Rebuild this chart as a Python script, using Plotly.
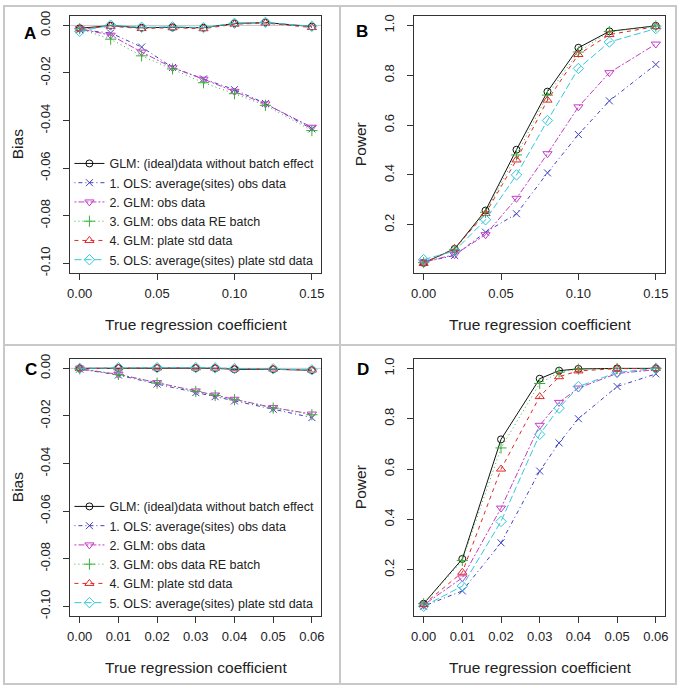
import plotly.graph_objects as go

# ---------------- data ----------------
series_names = [
    "GLM: (ideal)data without batch effect",
    "1. OLS: average(sites) obs data",
    "2. GLM: obs data",
    "3. GLM: obs data RE batch",
    "4. GLM: plate std data",
    "5. OLS: average(sites) plate std data",
]

x_top = [0.00, 0.02, 0.04, 0.06, 0.08, 0.10, 0.12, 0.15]
x_bottom = [0.00, 0.01, 0.02, 0.03, 0.035, 0.04, 0.05, 0.06]

# Panel A: bias
bias_A_ideal = [-0.0012, -0.0001, -0.0010, -0.0008, -0.0010, 0.0008, 0.0012, -0.0005]
bias_A_ols_obs = [-0.0018, -0.0032, -0.0091, -0.0177, -0.0225, -0.0270, -0.0328, -0.0435]
bias_A_glm_obs = [-0.0014, -0.0041, -0.0112, -0.0178, -0.0226, -0.0277, -0.0330, -0.0428]
bias_A_re = [-0.0014, -0.0058, -0.0128, -0.0183, -0.0241, -0.0287, -0.0336, -0.0442]
bias_A_plate = [-0.0015, -0.0004, -0.0013, -0.0010, -0.0014, 0.0005, 0.0010, -0.0009]
bias_A_ols_plate = [-0.0025, 0.0001, -0.0008, -0.0006, -0.0009, 0.0009, 0.0013, -0.0004]

# Panel B: power
power_B_ideal = [0.047, 0.103, 0.257, 0.501, 0.734, 0.910, 0.976, 0.998]
power_B_ols_obs = [0.050, 0.077, 0.170, 0.244, 0.408, 0.562, 0.697, 0.843]
power_B_glm_obs = [0.050, 0.080, 0.160, 0.306, 0.485, 0.673, 0.810, 0.925]
power_B_re = [0.048, 0.100, 0.250, 0.480, 0.720, 0.893, 0.975, 0.997]
power_B_plate = [0.045, 0.105, 0.245, 0.460, 0.700, 0.883, 0.963, 0.995]
power_B_ols_plate = [0.060, 0.095, 0.220, 0.400, 0.618, 0.827, 0.933, 0.987]

# Panel C: bias
bias_C_ideal = [0.0000, 0.0001, 0.0001, 0.0001, 0.0000, -0.0004, -0.0004, -0.0008]
bias_C_ols_obs = [-0.0003, -0.0028, -0.0066, -0.0102, -0.0119, -0.0137, -0.0172, -0.0207]
bias_C_glm_obs = [-0.0002, -0.0025, -0.0060, -0.0095, -0.0112, -0.0130, -0.0165, -0.0192]
bias_C_re = [-0.0002, -0.0026, -0.0062, -0.0097, -0.0114, -0.0132, -0.0167, -0.0195]
bias_C_plate = [0.0000, 0.0002, 0.0002, 0.0002, 0.0001, -0.0002, -0.0003, -0.0007]
bias_C_ols_plate = [0.0000, 0.0003, 0.0003, 0.0003, 0.0002, -0.0001, -0.0002, -0.0006]

# Panel D: power
power_D_ideal = [0.065, 0.243, 0.718, 0.959, 0.991, 0.998, 1.000, 1.000]
power_D_ols_obs = [0.055, 0.116, 0.307, 0.592, 0.704, 0.800, 0.928, 0.978]
power_D_glm_obs = [0.060, 0.168, 0.445, 0.774, 0.865, 0.922, 0.980, 0.995]
power_D_re = [0.065, 0.237, 0.684, 0.940, 0.985, 0.997, 1.000, 1.000]
power_D_plate = [0.062, 0.190, 0.600, 0.888, 0.967, 0.990, 0.999, 1.000]
power_D_ols_plate = [0.055, 0.135, 0.392, 0.738, 0.842, 0.928, 0.984, 1.000]

# tick labels
xtick_top = [0.00, 0.05, 0.10, 0.15]
xtick_top_text = ["0.00", "0.05", "0.10", "0.15"]
xtick_bottom = [0.00, 0.01, 0.02, 0.03, 0.04, 0.05, 0.06]
xtick_bottom_text = ["0.00", "0.01", "0.02", "0.03", "0.04", "0.05", "0.06"]
ytick_bias = [0.00, -0.02, -0.04, -0.06, -0.08, -0.10]
ytick_bias_text = ["0.00", "-0.02", "-0.04", "-0.06", "-0.08", "-0.10"]
ytick_power = [0.2, 0.4, 0.6, 0.8, 1.0]
ytick_power_text = ["0.2", "0.4", "0.6", "0.8", "1.0"]

# ---------------- styles ----------------
FONT = "Arial, Liberation Sans, sans-serif"
colors = ["#111111", "#4040c4", "#c43cc4", "#38b038", "#e02828", "#30c8da"]
dashes = ["solid", "1px,3px,4px,3px", "2px,2px,6px,2px", "1px,3px", "4px,4px", "7px,3px"]
symbols = ["circle-open", "x-thin-open", "triangle-down-open", "cross-thin-open",
           "triangle-up-open", "diamond-open"]
sizes = [7, 7, 8, 8, 8, 8]

W, H = 680, 688


def px_x(p):
    return p / W


def px_y(p):
    return 1 - p / H


fig = go.Figure()

panels = [
    ("x", "y", x_top, [bias_A_ideal, bias_A_ols_obs, bias_A_glm_obs, bias_A_re, bias_A_plate, bias_A_ols_plate], "legend"),
    ("x2", "y2", x_top, [power_B_ideal, power_B_ols_obs, power_B_glm_obs, power_B_re, power_B_plate, power_B_ols_plate], None),
    ("x3", "y3", x_bottom, [bias_C_ideal, bias_C_ols_obs, bias_C_glm_obs, bias_C_re, bias_C_plate, bias_C_ols_plate], "legend2"),
    ("x4", "y4", x_bottom, [power_D_ideal, power_D_ols_obs, power_D_glm_obs, power_D_re, power_D_plate, power_D_ols_plate], None),
]

for xa, ya, xs, ser, leg in panels:
    for i, ys in enumerate(ser):
        fig.add_trace(go.Scatter(
            x=xs, y=ys, xaxis=xa, yaxis=ya, mode="lines+markers",
            name=series_names[i],
            line=dict(color=colors[i], width=1, dash=dashes[i]),
            marker=dict(symbol=symbols[i], size=sizes[i], color=colors[i],
                        line=dict(color=colors[i], width=1)),
            showlegend=leg is not None,
            legend=leg if leg else "legend",
        ))

# zero reference lines in bias panels
for ya, xa in (("y", "x"), ("y3", "x3")):
    fig.add_shape(type="line", xref=f"{xa} domain", yref=ya, x0=0, x1=1, y0=0, y1=0,
                  line=dict(color="#c4c4c4", width=1), layer="below")

# plot boxes (pixels)
left_cols = (68, 321)
right_cols = (415, 668)
top_rows = (11, 271)
bottom_rows = (358, 618)

axis_common = dict(showgrid=False, zeroline=False, showline=True, mirror=True,
                   linecolor="#333333", linewidth=1, ticks="outside", ticklen=6,
                   tickcolor="#333333", tickfont=dict(family=FONT, size=13, color="#222222"))

layout_axes = {}
defs = [
    ("xaxis", "yaxis", left_cols, top_rows, [-0.006, 0.156], [-0.104, 0.004],
     xtick_top, xtick_top_text, ytick_bias, ytick_bias_text),
    ("xaxis2", "yaxis2", right_cols, top_rows, [-0.006, 0.156], [0.007, 1.038],
     xtick_top, xtick_top_text, ytick_power, ytick_power_text),
    ("xaxis3", "yaxis3", left_cols, bottom_rows, [-0.0024, 0.0624], [-0.104, 0.004],
     xtick_bottom, xtick_bottom_text, ytick_bias, ytick_bias_text),
    ("xaxis4", "yaxis4", right_cols, bottom_rows, [-0.0024, 0.0624], [0.017, 1.038],
     xtick_bottom, xtick_bottom_text, ytick_power, ytick_power_text),
]
for k, (xn, yn, cols, rows, xr, yr, xtv, xtt, ytv, ytt) in enumerate(defs):
    suffix = "" if k == 0 else str(k + 1)
    layout_axes[xn] = dict(axis_common, domain=[px_x(cols[0]), px_x(cols[1])], range=xr,
                           tickvals=xtv, ticktext=xtt, anchor="y" + suffix,
                           ticklabelstandoff=3)
    layout_axes[yn] = dict(axis_common, domain=[px_y(rows[1]), px_y(rows[0])], range=yr,
                           tickvals=ytv, ticktext=ytt, anchor="x" + suffix,
                           tickangle=-90, ticklabelstandoff=8)

fig.update_layout(**layout_axes)

legend_common = dict(font=dict(family=FONT, size=12.5, color="#222222"),
                     bgcolor="rgba(0,0,0,0)", borderwidth=0, xanchor="left",
                     yanchor="bottom", itemwidth=30, tracegroupgap=0)
fig.update_layout(
    legend=dict(legend_common, x=px_x(left_cols[0] - 1), y=px_y(top_rows[1] + 2)),
    legend2=dict(legend_common, x=px_x(left_cols[0] - 1), y=px_y(bottom_rows[1] + 2)),
)

annotations = []
title_font = dict(family=FONT, size=15.5, color="#222222")
for cols, rows in ((left_cols, top_rows), (right_cols, top_rows),
                   (left_cols, bottom_rows), (right_cols, bottom_rows)):
    annotations.append(dict(text="True regression coefficient", xref="paper", yref="paper",
                            x=px_x((cols[0] + cols[1]) / 2), y=px_y(rows[1] + 52),
                            xanchor="center", yanchor="middle", showarrow=False,
                            font=title_font))
for cols, rows, t in ((left_cols, top_rows, "Bias"), (right_cols, top_rows, "Power"),
                      (left_cols, bottom_rows, "Bias"), (right_cols, bottom_rows, "Power")):
    annotations.append(dict(text=t, xref="paper", yref="paper",
                            x=px_x(cols[0] - 54), y=px_y((rows[0] + rows[1]) / 2),
                            xanchor="center", yanchor="middle", showarrow=False,
                            textangle=-90, font=title_font))
letter_font = dict(family=FONT, size=17, color="#000000")
for t, px, py in (("<b>A</b>", 27, 29), ("<b>B</b>", 362, 27),
                  ("<b>C</b>", 28, 369), ("<b>D</b>", 363, 369)):
    annotations.append(dict(text=t, xref="paper", yref="paper", x=px_x(px), y=px_y(py),
                            xanchor="center", yanchor="middle", showarrow=False,
                            font=letter_font))
fig.update_layout(annotations=annotations)

# panel frames
frame = dict(color="#c8c8c8", width=2)
shapes = [
    dict(type="rect", xref="paper", yref="paper", x0=px_x(1), x1=px_x(679), y0=px_y(687), y1=px_y(1), line=frame),
    dict(type="line", xref="paper", yref="paper", x0=px_x(340), x1=px_x(340), y0=0, y1=1, line=frame),
    dict(type="line", xref="paper", yref="paper", x0=0, x1=1, y0=px_y(344), y1=px_y(344), line=frame),
]
for s in shapes:
    fig.add_shape(**s)

fig.update_layout(width=W, height=H, margin=dict(l=0, r=0, t=0, b=0),
                  paper_bgcolor="white", plot_bgcolor="white", showlegend=True,
                  font=dict(family=FONT))

fig.write_html("out.html", config={"displayModeBar": False},
               post_script="document.body.style.margin='0px';document.body.style.overflow='hidden';")
